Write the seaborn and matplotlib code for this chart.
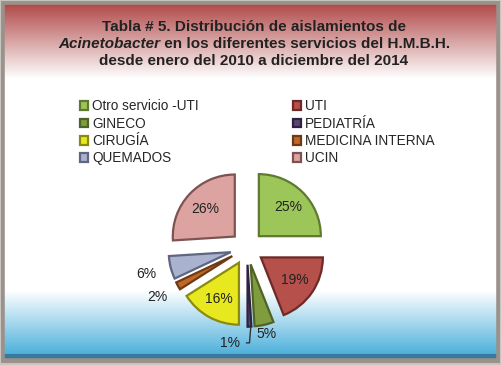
import numpy as np
import matplotlib
matplotlib.use("Agg")
import matplotlib.pyplot as plt
import seaborn as sns

servicios = ['Otro servicio -UTI', 'UTI', 'GINECO', 'PEDIATRÍA', 'CIRUGÍA',
             'MEDICINA INTERNA', 'QUEMADOS', 'UCIN']
porcentajes = [25, 19, 5, 1, 16, 2, 6, 26]
colores = ['#9cc65a', '#b5504a', '#7f9c3e', '#5a4670', '#e8e820', '#c0682a', '#a9b2cf', '#dda3a0']
bordes = ['#5f7a30', '#6e2a28', '#4f6326', '#2e2240', '#8a8a10', '#6e3a14', '#5e6680', '#7e5250']

sns.set_style("white")
plt.rcParams['font.family'] = ['Liberation Sans', 'DejaVu Sans']

fig = plt.figure(figsize=(5.02, 3.65), dpi=100)

# fondo con degradados
bg = fig.add_axes([0, 0, 1, 1])
bg.set_xlim(0, 502)
bg.set_ylim(365, 0)
bg.axis('off')
h = 365
grad = np.ones((h, 1, 3))
for y in range(h):
    if y < 78:
        t = max(0.0, (y - 5) / 73.0)
        c0 = np.array([0.70, 0.30, 0.30])
        grad[y, 0] = c0 * (1 - t) + np.array([1, 1, 1]) * t
    elif y > 290:
        t = min(1.0, (y - 290) / 64.0)
        c1 = np.array([0.30, 0.69, 0.86])
        grad[y, 0] = np.array([1, 1, 1]) * (1 - t) + c1 * t
grad[354:359, 0] = [0.22, 0.48, 0.62]
bg.imshow(grad, extent=[0, 502, 365, 0], aspect='auto', zorder=0)
bg.add_patch(plt.Rectangle((2, 2), 497, 359, fill=False, ec='#9a928a', lw=4, zorder=2))
bg.add_patch(plt.Rectangle((0, 0), 501, 364, fill=False, ec='#c8c4c0', lw=1.5, zorder=2))

# titulo
fs = 11
tkw = dict(va='center', fontsize=fs, fontweight='bold', color='#222222')
bg.text(254, 27, 'Tabla # 5. Distribución de aislamientos de', ha='center', **tkw)
bg.text(254, 61, 'desde enero del 2010 a diciembre del 2014', ha='center', **tkw)
p1 = bg.text(0, 44, 'Acinetobacter', ha='left', style='italic', **tkw)
p2 = bg.text(0, 44, ' en los diferentes servicios del H.M.B.H.', ha='left', **tkw)
fig.canvas.draw()
r = fig.canvas.get_renderer()
w1 = p1.get_window_extent(r).width
w2 = p2.get_window_extent(r).width
x0 = 254 - (w1 + w2) / 2
p1.set_x(x0)
p2.set_x(x0 + w1)

# pastel
R = 1.8
px = 62.0
cx, cy = 247, 248
w = 2 * R * px
ax = fig.add_axes([(cx - w / 2) / 502, (365 - cy - w / 2) / 365, w / 502, w / 365])
explode = [0.27] * len(porcentajes)
wedges, texts, autotexts = ax.pie(porcentajes, colors=colores, startangle=90, counterclock=False,
                                  explode=explode, autopct='%d%%', pctdistance=0.66,
                                  wedgeprops=dict(linewidth=1.6),
                                  textprops=dict(fontsize=10, color='#222222'))
for wd, b in zip(wedges, bordes):
    wd.set_edgecolor(b)
ax.set_xlim(-R, R)
ax.set_ylim(-R, R)
ax.axis('off')

# etiquetas de los sectores pequeños fuera
afuera = {2: 1.42, 5: 1.65, 6: 1.68}
for i, d in afuera.items():
    ang = np.deg2rad((wedges[i].theta1 + wedges[i].theta2) / 2)
    autotexts[i].set_position((d * np.cos(ang), d * np.sin(ang)))
ang = np.deg2rad((wedges[3].theta1 + wedges[3].theta2) / 2)
tip = (1.27 * np.cos(ang), 1.27 * np.sin(ang))
autotexts[3].set_position((tip[0] - 0.32, -1.53))
ax.plot([tip[0] + 0.02, tip[0], tip[0] - 0.05], [tip[1] - 0.02, -1.53, -1.53],
        color='#333333', lw=1)

# leyenda
orden = [0, 2, 4, 6, 1, 3, 5, 7]
leg = fig.legend([wedges[i] for i in orden], [servicios[i] for i in orden], ncol=2,
                 loc='upper left', bbox_to_anchor=(68 / 502, 1 - 87 / 365), frameon=False,
                 fontsize=9.8, handlelength=0.6, handleheight=0.6, handletextpad=0.3,
                 labelspacing=0.25, columnspacing=6.9)

fig.savefig('out.png', dpi=100)
